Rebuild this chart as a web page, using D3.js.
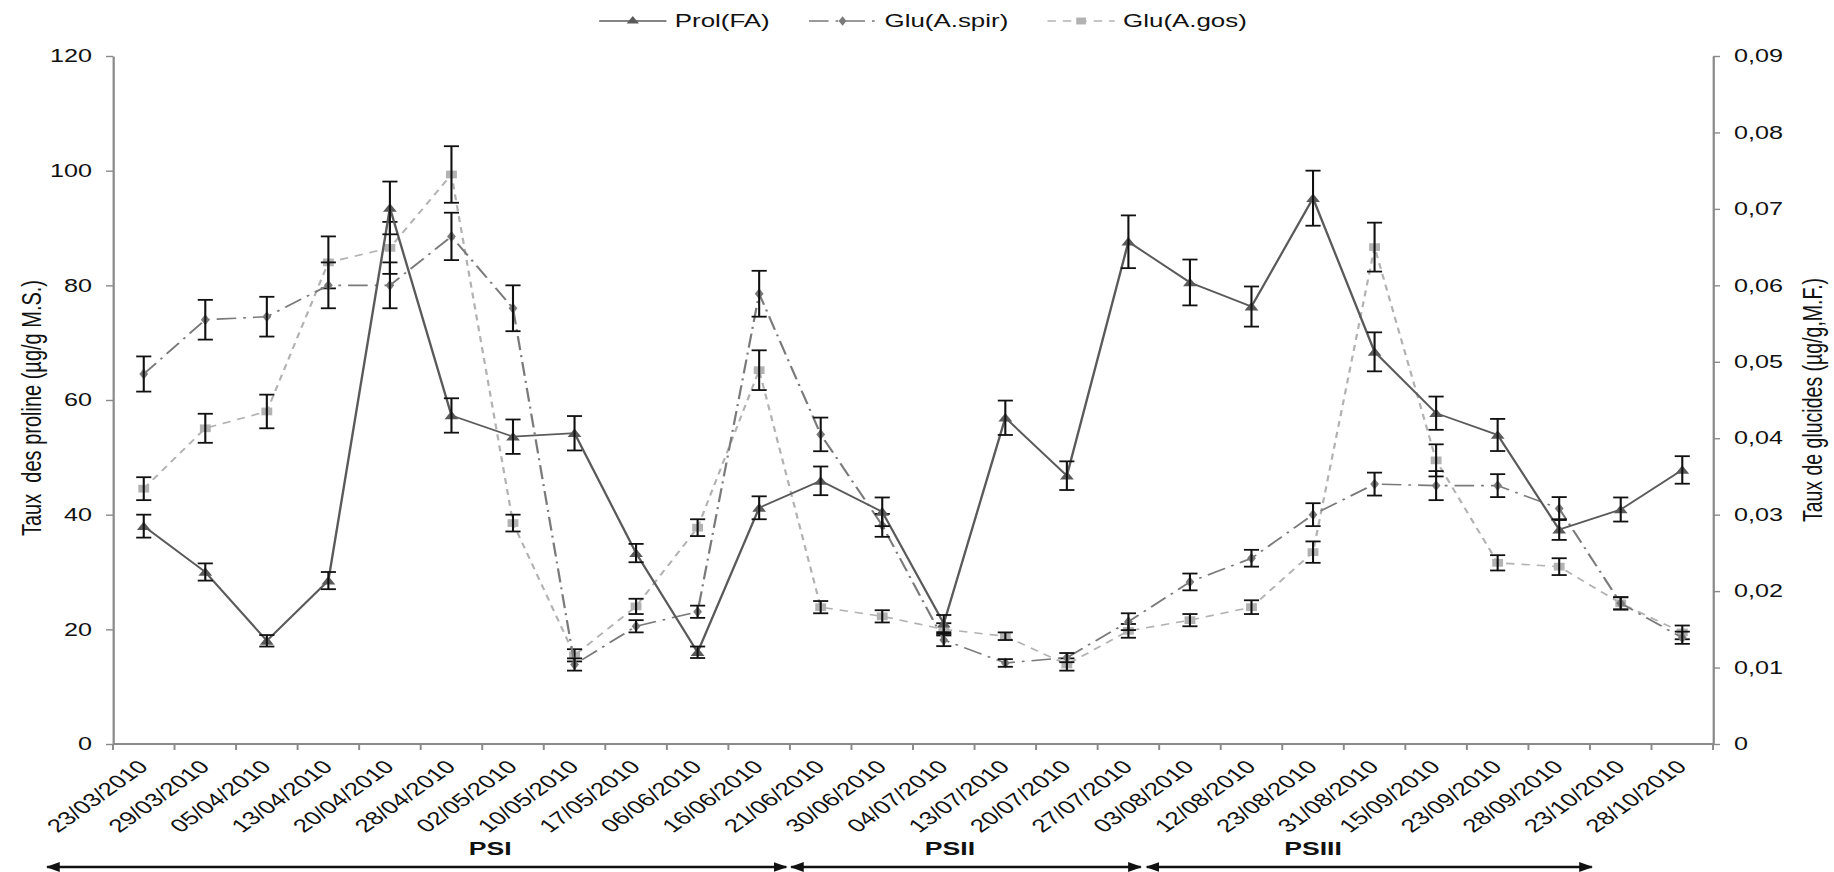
<!DOCTYPE html>
<html>
<head>
<meta charset="utf-8">
<script src="https://cdn.jsdelivr.net/npm/d3@7"></script>
<style>
  html, body { margin: 0; padding: 0; background: #fff; }
  svg { display: block; }
  text { font-family: "Liberation Sans", Arial, sans-serif; fill: #111; }
</style>
</head>
<body>
<svg id="chart"></svg>
<script>
// Sampling dates
const categories = [
  "23/03/2010", "29/03/2010", "05/04/2010", "13/04/2010", "20/04/2010", "28/04/2010",
  "02/05/2010", "10/05/2010", "17/05/2010", "06/06/2010", "16/06/2010", "21/06/2010",
  "30/06/2010", "04/07/2010", "13/07/2010", "20/07/2010", "27/07/2010", "03/08/2010",
  "12/08/2010", "23/08/2010", "31/08/2010", "15/09/2010", "23/09/2010", "28/09/2010",
  "23/10/2010", "28/10/2010"
];

// Proline content (µg/g M.S.), left axis
const prolValues = [38, 30, 18, 28.5, 93.5, 57.3, 53.6, 54.2, 33.3, 16, 41.2, 45.9,
  40.5, 21, 56.9, 46.8, 87.6, 80.5, 76.3, 95.2, 68.4, 57.7, 53.9, 37.4, 40.9, 47.8];
const prolErrors = [2, 1.5, 1, 1.5, 4.6, 3, 3, 3, 1.6, 1, 2, 2.5,
  2.5, 1.5, 3, 2.5, 4.6, 4, 3.5, 4.8, 3.4, 2.9, 2.8, 1.8, 2.1, 2.4];

// Carbohydrate content (µg/g M.F.), right axis
const spirValues = [0.0484, 0.0555, 0.0559, 0.0600, 0.0600, 0.0664, 0.0570, 0.0104,
  0.0154, 0.0173, 0.0589, 0.0405, 0.0286, 0.0136, 0.0106, 0.0113, 0.0160, 0.0212,
  0.0243, 0.0300, 0.0340, 0.0338, 0.0338, 0.0308, 0.0184, 0.0139];
const spirErrors = [0.0023, 0.0026, 0.0026, 0.0030, 0.0030, 0.0031, 0.0030, 0.0008,
  0.0008, 0.0008, 0.0030, 0.0022, 0.0015, 0.0008, 0.0005, 0.0006, 0.0011, 0.0011,
  0.0011, 0.0015, 0.0015, 0.0019, 0.0015, 0.0015, 0.0008, 0.0008];

const gosValues = [0.0334, 0.0413, 0.0435, 0.0630, 0.0649, 0.0745, 0.0289, 0.0116,
  0.0180, 0.0283, 0.0489, 0.0179, 0.0167, 0.0150, 0.0141, 0.0104, 0.0148, 0.0162,
  0.0179, 0.0251, 0.0650, 0.0371, 0.0237, 0.0232, 0.0184, 0.0146];
const gosErrors = [0.0015, 0.0019, 0.0022, 0.0034, 0.0034, 0.0037, 0.0011, 0.0008,
  0.0010, 0.0011, 0.0026, 0.0008, 0.0008, 0.0008, 0.0005, 0.0008, 0.0009, 0.0008,
  0.0009, 0.0014, 0.0032, 0.0021, 0.0010, 0.0011, 0.0008, 0.0009];

const seriesNames = ["Prol(FA)", "Glu(A.spir)", "Glu(A.gos)"];
const leftTicks = [0, 20, 40, 60, 80, 100, 120];
const rightTicks = [0, 0.01, 0.02, 0.03, 0.04, 0.05, 0.06, 0.07, 0.08, 0.09];
const periodLabels = ["PSI", "PSII", "PSIII"];

// The drawing is laid out in a narrower coordinate space and widened horizontally.
const W = 1834, H = 872, SX = 1.4;
const DW = W / SX;

const svg = d3.select("#chart")
  .attr("width", W).attr("height", H)
  .attr("viewBox", `0 0 ${DW} ${H}`)
  .attr("preserveAspectRatio", "none");

const plotLeft = 80.7, plotRight = 1223.6, plotTop = 56, plotBottom = 744;

const x = d3.scaleBand().domain(categories).range([plotLeft, plotRight]).padding(0);
const cx = d => x(d) + x.bandwidth() / 2;
const yL = d3.scaleLinear().domain([0, 120]).range([plotBottom, plotTop]);
const yR = d3.scaleLinear().domain([0, 0.09]).range([plotBottom, plotTop]);

const axisColor = "#8a8a8a";

// Left axis
const gL = svg.append("g").attr("transform", `translate(${plotLeft},0)`)
  .call(d3.axisLeft(yL).tickValues(leftTicks).tickSize(5).tickPadding(10).tickSizeOuter(0));
// Right axis
const commaFmt = d => d === 0 ? "0" : d3.format(".2f")(d).replace(".", ",");
const gR = svg.append("g").attr("transform", `translate(${plotRight},0)`)
  .call(d3.axisRight(yR).tickValues(rightTicks).tickFormat(commaFmt).tickSize(5).tickPadding(10).tickSizeOuter(0));

[gL, gR].forEach(g => {
  g.select(".domain").attr("stroke", axisColor).attr("stroke-width", 1.6);
  g.selectAll(".tick line").attr("stroke", axisColor).attr("stroke-width", 1.4);
  g.selectAll(".tick text").attr("font-size", 18).attr("fill", "#111")
    .attr("font-family", "\"Liberation Sans\", Arial, sans-serif");
});

// Category axis: line, boundary ticks, slanted date labels
const gX = svg.append("g");
gX.append("line")
  .attr("x1", plotLeft).attr("x2", plotRight)
  .attr("y1", plotBottom).attr("y2", plotBottom)
  .attr("stroke", axisColor).attr("stroke-width", 2);
const boundaries = categories.map(c => x(c)).concat([x(categories[categories.length - 1]) + x.bandwidth()]);
gX.selectAll("line.xt").data(boundaries).enter().append("line")
  .attr("class", "xt")
  .attr("x1", d => d).attr("x2", d => d)
  .attr("y1", plotBottom).attr("y2", plotBottom + 6)
  .attr("stroke", axisColor).attr("stroke-width", 1.4);
gX.selectAll("text.xl").data(categories).enter().append("text")
  .attr("class", "xl")
  .attr("font-size", 18.5)
  .attr("text-anchor", "end")
  .attr("transform", d => `translate(${cx(d) + 4},${plotBottom + 24}) rotate(-45)`)
  .text(d => d);

// Axis titles
svg.append("text")
  .attr("transform", `translate(22,408) rotate(-90)`)
  .attr("text-anchor", "middle").attr("dominant-baseline", "central")
  .attr("font-size", 20)
  .text("Taux\u00a0 des proline (µg/g M.S.)");
svg.append("text")
  .attr("transform", `translate(1295,400) rotate(-90)`)
  .attr("text-anchor", "middle").attr("dominant-baseline", "central")
  .attr("font-size", 19.5)
  .text("Taux de glucides (µg/g,M.F.)");

// Series definitions
const series = [
  { name: seriesNames[2], values: gosValues, errors: gosErrors, y: yR,
    color: "#b2b2b2", dash: "6,5", width: 1.6, symbol: d3.symbolSquare, size: 60 },
  { name: seriesNames[1], values: spirValues, errors: spirErrors, y: yR,
    color: "#7a7a7a", dash: "14,5,2,5", width: 1.6, symbol: d3.symbolDiamond, size: 34 },
  { name: seriesNames[0], values: prolValues, errors: prolErrors, y: yL,
    color: "#5a5a5a", dash: null, width: 1.7, symbol: d3.symbolTriangle, size: 42 }
];

const capHalf = 5.4;
series.forEach(s => {
  const pts = categories.map((c, i) => ({ c, v: s.values[i], e: s.errors[i] }));
  const line = d3.line().x(d => cx(d.c)).y(d => s.y(d.v));
  const g = svg.append("g");
  g.append("path").datum(pts)
    .attr("d", line).attr("fill", "none")
    .attr("stroke", s.color).attr("stroke-width", s.width)
    .attr("stroke-dasharray", s.dash);
  g.selectAll("path.mk").data(pts).enter().append("path")
    .attr("class", "mk")
    .attr("d", d3.symbol().type(s.symbol).size(s.size))
    .attr("transform", d => `translate(${cx(d.c)},${s.y(d.v) + (s.symbol === d3.symbolTriangle ? 1 : 0)})`)
    .attr("fill", s.color);
  // error bars
  const eb = g.selectAll("g.eb").data(pts).enter().append("g").attr("class", "eb")
    .attr("stroke", "#111").attr("stroke-width", 1.5).attr("fill", "none");
  eb.append("line")
    .attr("x1", d => cx(d.c)).attr("x2", d => cx(d.c))
    .attr("y1", d => s.y(d.v - d.e)).attr("y2", d => s.y(d.v + d.e));
  eb.append("line")
    .attr("x1", d => cx(d.c) - capHalf).attr("x2", d => cx(d.c) + capHalf)
    .attr("y1", d => s.y(d.v + d.e)).attr("y2", d => s.y(d.v + d.e)).attr("stroke-width", 1.8);
  eb.append("line")
    .attr("x1", d => cx(d.c) - capHalf).attr("x2", d => cx(d.c) + capHalf)
    .attr("y1", d => s.y(d.v - d.e)).attr("y2", d => s.y(d.v - d.e)).attr("stroke-width", 1.8);
});

// Legend
const legendItems = [series[2], series[1], series[0]];
let lx = 428;
const ly = 21;
legendItems.forEach(s => {
  const g = svg.append("g");
  g.append("line").attr("x1", lx).attr("x2", lx + 48).attr("y1", ly).attr("y2", ly)
    .attr("stroke", s.color).attr("stroke-width", s.width)
    .attr("stroke-dasharray", s.dash);
  g.append("path").attr("d", d3.symbol().type(s.symbol).size(s.size * 0.8))
    .attr("transform", `translate(${lx + 24},${ly})`).attr("fill", s.color);
  const t = g.append("text").attr("x", lx + 54).attr("y", ly)
    .attr("dominant-baseline", "central").attr("font-size", 18.5).text(s.name);
  lx += 54 + t.node().getComputedTextLength() + 28;
});

// Growth periods along the time axis
const step = x.step();
const periodFrom = [plotLeft - 1.07 * step, plotLeft + 11.02 * step, plotLeft + 16.8 * step];
const periodTo = [plotLeft + 10.94 * step, plotLeft + 16.7 * step, plotLeft + 24.03 * step];
const periodMid = [plotLeft + 6.13 * step, plotLeft + 13.6 * step, plotLeft + 19.5 * step];

const defs = svg.append("defs");
defs.append("marker").attr("id", "ah").attr("viewBox", "0 0 10 10")
  .attr("refX", 9).attr("refY", 5).attr("markerUnits", "userSpaceOnUse")
  .attr("markerWidth", 10).attr("markerHeight", 10).attr("orient", "auto-start-reverse")
  .append("path").attr("d", "M0,0 L10,5 L0,10 Z").attr("fill", "#111");

periodLabels.forEach((p, i) => {
  svg.append("line")
    .attr("x1", periodFrom[i]).attr("x2", periodTo[i])
    .attr("y1", 867).attr("y2", 867)
    .attr("stroke", "#111").attr("stroke-width", 2.6)
    .attr("marker-start", "url(#ah)").attr("marker-end", "url(#ah)");
  svg.append("text")
    .attr("x", periodMid[i]).attr("y", 855)
    .attr("text-anchor", "middle").attr("font-size", 19).attr("font-weight", "bold")
    .text(p);
});
</script>
</body>
</html>
